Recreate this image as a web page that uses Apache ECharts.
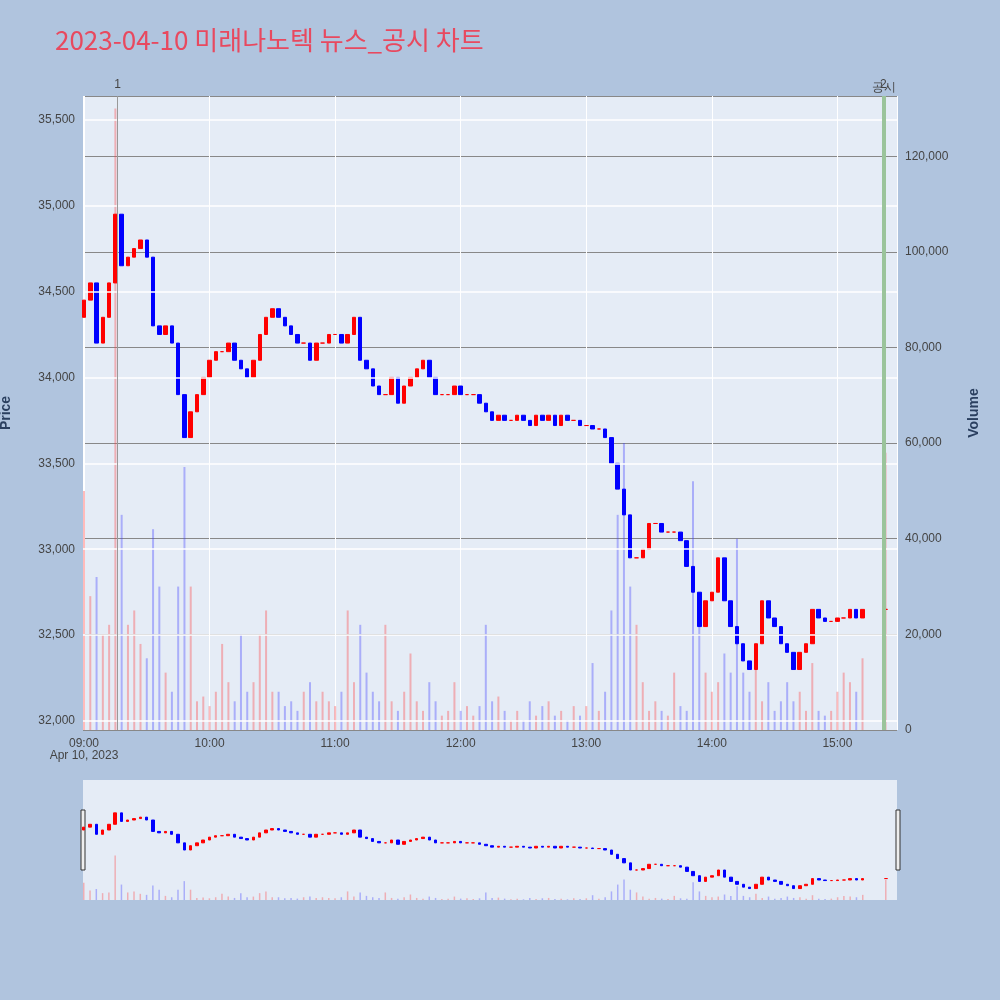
<!DOCTYPE html>
<html><head><meta charset="utf-8">
<script src="https://cdn.jsdelivr.net/npm/echarts@6/dist/echarts.min.js"></script>
<style>html,body{margin:0;padding:0;background:#b0c4de}#chart-container{width:1000px;height:1000px}</style>
</head><body>
<div id="chart-container"></div>
<script>
// 3-minute candles from 09:00, then one late print
var minutes = [];
for (var m = 0; m <= 372; m += 3) minutes.push(m);
minutes.push(383);
var closes = [34450,34550,34200,34350,34550,34950,34650,34700,34750,34800,
  34700,34300,34250,34300,34200,33900,33650,33800,33900,34000,
  34100,34150,34150,34200,34100,34050,34000,34100,34250,34350,
  34400,34350,34300,34250,34200,34200,34100,34200,34200,34250,
  34250,34200,34250,34350,34100,34050,33950,33900,33900,34000,
  33850,33950,34000,34050,34100,34000,33900,33900,33900,33950,
  33900,33900,33900,33850,33800,33750,33780,33750,33750,33780,
  33750,33720,33780,33750,33780,33720,33780,33750,33750,33720,
  33720,33700,33700,33650,33500,33350,33200,32950,32950,33000,
  33150,33150,33100,33100,33100,33050,32900,32750,32550,32700,
  32750,32950,32700,32550,32450,32350,32300,32450,32700,32600,
  32550,32450,32400,32300,32400,32450,32650,32600,32580,32580,
  32600,32600,32650,32600,32650,32650];
var volumesK = [50,28,32,20,22,130,45,22,25,18,
  15,42,30,12,8,30,55,30,6,7,
  5,8,18,10,6,20,8,10,20,25,
  8,8,5,6,4,8,10,6,8,6,
  5,8,25,10,22,12,8,6,22,6,
  4,8,16,6,4,10,6,3,4,10,
  4,5,3,5,22,6,7,4,2,4,
  2,6,3,5,6,3,4,2,5,3,
  5,14,4,8,25,45,60,30,22,10,
  4,6,4,3,12,5,4,52,25,12,
  8,10,16,12,40,12,8,18,6,10,
  4,6,10,6,8,4,14,4,3,4,
  8,12,10,8,15,58];
var openPrice = 34350;
var priceTicks = [32000,32500,33000,33500,34000,34500,35000,35500];

var t0 = new Date(2023, 3, 10, 9, 0).getTime();
var MIN = 60000;
var candles = [], vols = [], prev = openPrice;
for (var i = 0; i < closes.length; i++) {
  var t = t0 + minutes[i] * MIN, o = prev, c = closes[i];
  candles.push([t, o, c, Math.min(o, c), Math.max(o, c)]);
  var up = c >= o;
  vols.push({value: [t, volumesK[i] * 1000], itemStyle: {color: up ? 'rgba(255,60,60,0.35)' : 'rgba(60,60,255,0.35)'}});
  prev = c;
}
var xMin = t0, xMax = t0 + 388 * MIN;
var candleStyle = {color: '#ff0000', color0: '#0000ff', borderColor: '#ff0000', borderColor0: '#0000ff'};

var option = {
  backgroundColor: '#b0c4de',
  animation: false,
  title: {text: '2023-04-10 미래나노텍 뉴스_공시 차트', left: 50, top: 22,
    textStyle: {color: '#e8495f', fontSize: 26, fontWeight: 'normal', fontFamily: 'Noto Sans CJK KR'}},
  grid: [
    {left: 83, right: 103, top: 96, height: 634, backgroundColor: '#e5ecf6', show: true, borderWidth: 0, outerBoundsMode: 'none', containLabel: false},
    {left: 83, right: 103, top: 780, height: 120, backgroundColor: '#e5ecf6', show: true, borderWidth: 0, outerBoundsMode: 'none', containLabel: false}
  ],
  xAxis: [
    {type: 'time', gridIndex: 0, min: xMin, max: xMax, interval: 3600000,
      axisLine: {show: false}, axisTick: {show: false}, splitLine: {show: true, lineStyle: {color: '#fff'}},
      axisLabel: {color: '#444', fontSize: 12, hideOverlap: false, formatter: function (v) {
        var d = new Date(v), s = ('0' + d.getHours()).slice(-2) + ':00';
        return v === t0 ? s + '\nApr 10, 2023' : s; }}},
    {type: 'time', gridIndex: 1, min: xMin, max: xMax, show: false}
  ],
  yAxis: [
    {gridIndex: 0, min: 31948, max: 35638, name: 'Price', nameLocation: 'middle', nameGap: 70,
      nameTextStyle: {color: '#2a3f5f', fontSize: 14, fontWeight: 'bold'},
      axisLine: {show: false},
      axisTick: {show: false, customValues: priceTicks},
      axisLabel: {color: '#444', customValues: priceTicks, formatter: function (v) { return v.toLocaleString('en-US'); }},
      splitLine: {show: false}},
    {gridIndex: 0, position: 'right', min: 0, max: 132600, interval: 20000, name: 'Volume', nameLocation: 'middle', nameGap: 70,
      nameTextStyle: {color: '#2a3f5f', fontSize: 14, fontWeight: 'bold'},
      axisLabel: {color: '#444', formatter: function (v) { return v % 20000 ? '' : v.toLocaleString('en-US'); }},
      splitLine: {lineStyle: {color: '#888'}}},
    {gridIndex: 1, min: 31900, max: 36100, show: false},
    {gridIndex: 1, min: 0, max: 350000, show: false}
  ],
  series: [
    {type: 'line', xAxisIndex: 0, yAxisIndex: 0, data: [], silent: true,
      markLine: {symbol: 'none', silent: true, label: {show: false},
        lineStyle: {color: '#fff', width: 1.5, type: 'solid'},
        data: priceTicks.map(function (v) { return {yAxis: v}; })}},
    {type: 'bar', xAxisIndex: 0, yAxisIndex: 1, data: vols, barWidth: 2},
    {type: 'candlestick', xAxisIndex: 0, yAxisIndex: 0, data: candles, barWidth: 4, itemStyle: candleStyle,
      markLine: {symbol: 'none', silent: true, data: [
        {xAxis: t0 + 16 * MIN, lineStyle: {color: '#999', width: 1, type: 'solid'}, label: {formatter: '1', position: 'end', color: '#444'}},
        {xAxis: t0 + 382 * MIN, lineStyle: {color: '#9bc49b', width: 4, type: 'solid'}, label: {formatter: '2', position: 'end', color: '#444'}}
      ]}},
    {type: 'bar', xAxisIndex: 1, yAxisIndex: 3, data: vols, barWidth: 1.5},
    {type: 'candlestick', xAxisIndex: 1, yAxisIndex: 2, data: candles, barWidth: 3, itemStyle: candleStyle}
  ],
  graphic: [
    {type: 'text', left: 872, top: 82, style: {text: '공시', fill: '#444', fontSize: 12}},
    {type: 'rect', shape: {x: 81, y: 810, width: 4, height: 60}, style: {fill: '#eee', stroke: '#333'}},
    {type: 'rect', shape: {x: 896, y: 810, width: 4, height: 60}, style: {fill: '#eee', stroke: '#333'}}
  ]
};
var myChart = echarts.init(document.getElementById('chart-container'));
myChart.setOption(option);
</script>
</body></html>
